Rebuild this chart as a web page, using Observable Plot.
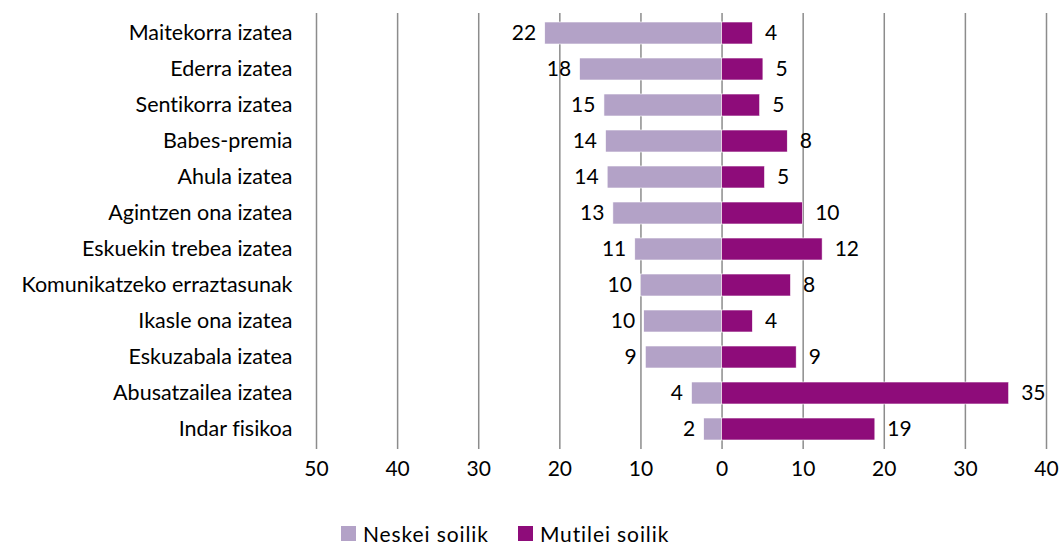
<!DOCTYPE html>
<html>
<head>
<meta charset="utf-8">
<script src="https://cdn.jsdelivr.net/npm/d3@7"></script>
<script src="https://cdn.jsdelivr.net/npm/@observablehq/plot@0.6"></script>
<style>
  html, body { margin: 0; padding: 0; background: #fff; }
  body { width: 1062px; height: 548px; overflow: hidden; font-family: Lato, "Open Sans", sans-serif; font-variant-ligatures: none; }
  svg, svg text { font-variant-ligatures: none; font-feature-settings: "liga" 0, "clig" 0; }
  #chart { position: absolute; left: 0; top: 0; }
  #legend { position: absolute; left: 341px; top: 521px; display: flex; align-items: center; font-size: 21px; line-height: 25px; letter-spacing: 0.9px; color: #000; }
  .item { display: flex; align-items: center; margin-right: 29px; }
  .sw { width: 15px; height: 15px; margin-right: 7px; }
</style>
</head>
<body>
<div id="chart"></div>
<div id="legend"></div>
<script>
const categories = [
  "Maitekorra izatea", "Ederra izatea", "Sentikorra izatea", "Babes-premia",
  "Ahula izatea", "Agintzen ona izatea", "Eskuekin trebea izatea",
  "Komunikatzeko erraztasunak", "Ikasle ona izatea", "Eskuzabala izatea",
  "Abusatzailea izatea", "Indar fisikoa"
];
const series = ["Neskei soilik", "Mutilei soilik"];
const neskei  = [21.8, 17.5, 14.5, 14.3, 14.1, 13.4, 10.7, 10.0, 9.6, 9.4, 3.7, 2.2];
const mutilei = [3.8, 5.1, 4.7, 8.1, 5.3, 10.0, 12.4, 8.5, 3.8, 9.2, 35.4, 18.9];
const neskeiLabels  = [22, 18, 15, 14, 14, 13, 11, 10, 10, 9, 4, 2];
const mutileiLabels = [4, 5, 5, 8, 5, 10, 12, 8, 4, 9, 35, 19];
const xTicks = [-50, -40, -30, -20, -10, 0, 10, 20, 30, 40];
const colors = ["#b3a2c7", "#8e0c7a"];

const data = [];
categories.forEach((c, i) => {
  data.push({cat: c, series: series[0], value: -neskei[i], label: neskeiLabels[i]});
  data.push({cat: c, series: series[1], value: mutilei[i], label: mutileiLabels[i]});
});

const FS = 21;
const chart = Plot.plot({
  width: 1062,
  height: 490,
  marginLeft: 316,
  marginRight: 16,
  marginTop: 13,
  marginBottom: 41,
  style: {fontFamily: "Lato, 'Open Sans', sans-serif", fontSize: FS + "px", color: "#000", background: "#fff"},
  x: {domain: [-50, 40], ticks: xTicks, tickFormat: d => Math.abs(d), label: null},
  y: {domain: categories, paddingInner: 0.4, paddingOuter: 0.2, label: null},
  color: {domain: series, range: colors},
  marks: [
    Plot.gridX(xTicks, {stroke: "#8c8c8c", strokeOpacity: 1, strokeWidth: 1.5}),
    Plot.barX(data, {y: "cat", x1: 0, x2: "value", fill: "series", stroke: "#fff", strokeWidth: 0.6}),
    Plot.text(data.filter(d => d.value < 0), {y: "cat", x: "value", text: "label", textAnchor: "end", dx: -9, fill: "#000", fontSize: FS}),
    Plot.text(data.filter(d => d.value > 0), {y: "cat", x: "value", text: "label", textAnchor: "start", dx: 12, fill: "#000", fontSize: FS}),
    Plot.axisX(xTicks, {tickSize: 0, tickPadding: 12, tickFormat: d => Math.abs(d), fontSize: FS, fill: "#000", label: null}),
    Plot.axisY({tickSize: 0, tickPadding: 24, fontSize: 21.5, fill: "#000", label: null})
  ]
});
document.getElementById("chart").appendChild(chart);

const legend = document.getElementById("legend");
series.forEach((s, i) => {
  const it = document.createElement("div");
  it.className = "item";
  const sw = document.createElement("div");
  sw.className = "sw";
  sw.style.background = colors[i];
  const t = document.createElement("span");
  t.textContent = s;
  it.appendChild(sw); it.appendChild(t);
  legend.appendChild(it);
});
</script>
</body>
</html>
